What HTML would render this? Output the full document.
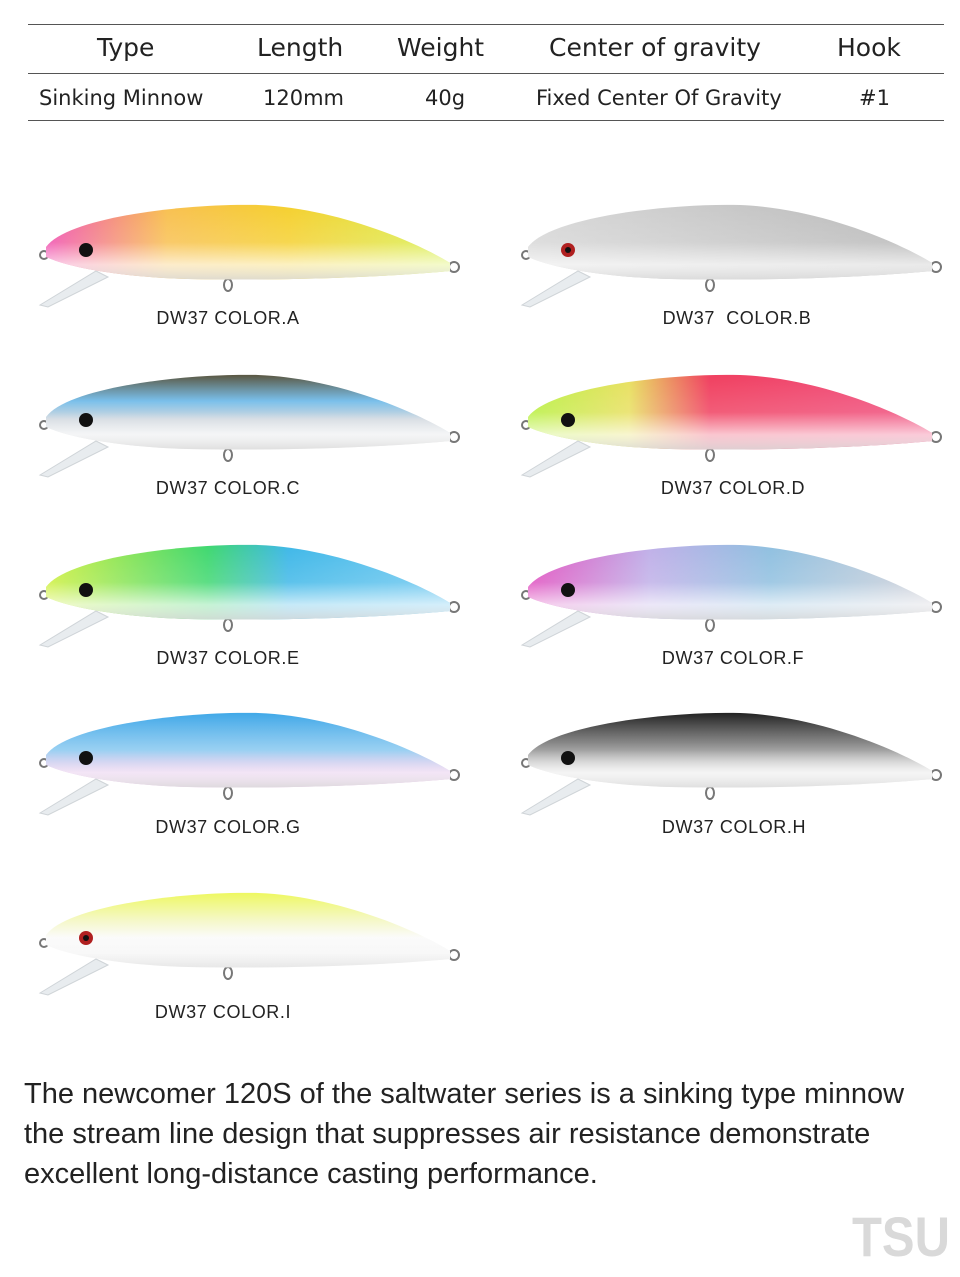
<!DOCTYPE html>
<html><head><meta charset="utf-8"><style>
body{margin:0;background:#fff;}
#p{position:relative;width:960px;height:1277px;overflow:hidden;font-family:"Liberation Sans",Arial,sans-serif;color:#222;}
.t{position:absolute;white-space:nowrap;font-family:"DejaVu Sans","Liberation Sans",sans-serif;color:#222;}
.h{font-size:25px;top:33px;font-weight:normal;}
.r{font-size:21px;top:86px;}
.lbl{position:absolute;font-size:18px;letter-spacing:0.6px;color:#222;white-space:nowrap;transform:translateX(-50%);}
.ln{position:absolute;left:28px;width:916px;height:1px;background:#555;}
.para{position:absolute;left:24px;top:1074px;font-size:29px;line-height:40px;color:#222;}
</style></head><body><div id="p">
<div class="ln" style="top:24px"></div>
<div class="ln" style="top:73px"></div>
<div class="ln" style="top:120px"></div>
<div class="t h" style="left:97px">Type</div>
<div class="t h" style="left:257px">Length</div>
<div class="t h" style="left:397px">Weight</div>
<div class="t h" style="left:549px">Center of gravity</div>
<div class="t h" style="left:837px">Hook</div>
<div class="t r" style="left:39px">Sinking Minnow</div>
<div class="t r" style="left:263px">120mm</div>
<div class="t r" style="left:425px">40g</div>
<div class="t r" style="left:536px">Fixed Center Of Gravity</div>
<div class="t r" style="left:859px">#1</div>

<svg width="960" height="1277" style="position:absolute;left:0;top:0">
<defs>
<path id="body" d="M8,52 C30,22 150,8 220,10 C300,13 380,48 412,68 L412,76 C350,82 250,86 150,84 C80,82 30,72 8,62 Z"/>
<linearGradient id="sh" x1="0" y1="0" x2="0" y2="1">
<stop offset="0" stop-color="#fff" stop-opacity="0"/><stop offset="0.5" stop-color="#fff" stop-opacity="0.15"/><stop offset="0.8" stop-color="#fff" stop-opacity="0.7"/><stop offset="1" stop-color="#ddd" stop-opacity="0.9"/></linearGradient>
<linearGradient id="gA" x1="0" x2="1"><stop offset="0" stop-color="#f04fb0"/><stop offset="0.3" stop-color="#f8c050"/><stop offset="0.6" stop-color="#f5d030"/><stop offset="1" stop-color="#d8f050"/></linearGradient>
<linearGradient id="gB" x1="0" x2="1"><stop offset="0" stop-color="#d8d8d8"/><stop offset="1" stop-color="#b8b8b8"/></linearGradient>
<linearGradient id="gC" x1="0" y1="0" x2="0" y2="1"><stop offset="0" stop-color="#5a5640"/><stop offset="0.35" stop-color="#6ab8e8"/><stop offset="0.6" stop-color="#c8d0d8"/><stop offset="1" stop-color="#eee"/></linearGradient>
<linearGradient id="gD" x1="0" x2="1"><stop offset="0" stop-color="#b8f040"/><stop offset="0.25" stop-color="#e8e060"/><stop offset="0.45" stop-color="#f04060"/><stop offset="1" stop-color="#f05080"/></linearGradient>
<linearGradient id="gE" x1="0" x2="1"><stop offset="0" stop-color="#d0f040"/><stop offset="0.4" stop-color="#40d870"/><stop offset="0.6" stop-color="#40b8e8"/><stop offset="1" stop-color="#70c8f0"/></linearGradient>
<linearGradient id="gF" x1="0" x2="1"><stop offset="0" stop-color="#e050c0"/><stop offset="0.3" stop-color="#c0b0e8"/><stop offset="0.6" stop-color="#90c0e0"/><stop offset="1" stop-color="#d0d0d8"/></linearGradient>
<linearGradient id="gG" x1="0" y1="0" x2="0" y2="1"><stop offset="0" stop-color="#40a8e8"/><stop offset="0.5" stop-color="#88c8f0"/><stop offset="0.8" stop-color="#d8a8e0"/><stop offset="1" stop-color="#e8b8e8"/></linearGradient>
<linearGradient id="gH" x1="0" y1="0" x2="0" y2="1"><stop offset="0" stop-color="#222"/><stop offset="0.4" stop-color="#777"/><stop offset="0.8" stop-color="#ddd"/><stop offset="1" stop-color="#eee"/></linearGradient>
<linearGradient id="gI" x1="0" y1="0" x2="0" y2="1"><stop offset="0" stop-color="#eef860"/><stop offset="0.35" stop-color="#f4f8c0"/><stop offset="0.6" stop-color="#fafafa"/><stop offset="1" stop-color="#f0f0f0"/></linearGradient>
<g id="parts">
<polygon points="2,110 58,76 70,82 10,112" fill="#e8ecef" stroke="#cfd4d8" stroke-width="1"/>
<circle cx="6" cy="60" r="4" fill="none" stroke="#777" stroke-width="2"/>
<circle cx="416" cy="72" r="5" fill="none" stroke="#777" stroke-width="2"/>
<ellipse cx="190" cy="90" rx="4" ry="6" fill="none" stroke="#777" stroke-width="2"/>
</g>
</defs>
<g transform="translate(38,195)"><use href="#parts"/><use href="#body" fill="url(#gA)"/><use href="#body" fill="url(#sh)"/><circle cx="48" cy="55" r="7" fill="#111"/></g>
<g transform="translate(520,195)"><use href="#parts"/><use href="#body" fill="url(#gB)"/><use href="#body" fill="url(#sh)"/><circle cx="48" cy="55" r="7" fill="#b02020"/><circle cx="48" cy="55" r="3" fill="#111"/></g>
<g transform="translate(38,365)"><use href="#parts"/><use href="#body" fill="url(#gC)"/><use href="#body" fill="url(#sh)"/><circle cx="48" cy="55" r="7" fill="#111"/></g>
<g transform="translate(520,365)"><use href="#parts"/><use href="#body" fill="url(#gD)"/><use href="#body" fill="url(#sh)"/><circle cx="48" cy="55" r="7" fill="#111"/></g>
<g transform="translate(38,535)"><use href="#parts"/><use href="#body" fill="url(#gE)"/><use href="#body" fill="url(#sh)"/><circle cx="48" cy="55" r="7" fill="#111"/></g>
<g transform="translate(520,535)"><use href="#parts"/><use href="#body" fill="url(#gF)"/><use href="#body" fill="url(#sh)"/><circle cx="48" cy="55" r="7" fill="#111"/></g>
<g transform="translate(38,703)"><use href="#parts"/><use href="#body" fill="url(#gG)"/><use href="#body" fill="url(#sh)"/><circle cx="48" cy="55" r="7" fill="#111"/></g>
<g transform="translate(520,703)"><use href="#parts"/><use href="#body" fill="url(#gH)"/><use href="#body" fill="url(#sh)"/><circle cx="48" cy="55" r="7" fill="#111"/></g>
<g transform="translate(38,883)"><use href="#parts"/><use href="#body" fill="url(#gI)"/><use href="#body" fill="url(#sh)" opacity="0.5"/><circle cx="48" cy="55" r="7" fill="#b02020"/><circle cx="48" cy="55" r="3" fill="#111"/></g>
<text x="852" y="1256" font-family="Liberation Sans,sans-serif" font-weight="bold" font-size="56" fill="#d9d9d9" textLength="98" lengthAdjust="spacingAndGlyphs">TSU</text>
</svg>

<div class="lbl" style="left:228px;top:308px">DW37 COLOR.A</div>
<div class="lbl" style="left:737px;top:308px">DW37&nbsp; COLOR.B</div>
<div class="lbl" style="left:228px;top:478px">DW37 COLOR.C</div>
<div class="lbl" style="left:733px;top:478px">DW37 COLOR.D</div>
<div class="lbl" style="left:228px;top:648px">DW37 COLOR.E</div>
<div class="lbl" style="left:733px;top:648px">DW37 COLOR.F</div>
<div class="lbl" style="left:228px;top:817px">DW37 COLOR.G</div>
<div class="lbl" style="left:734px;top:817px">DW37 COLOR.H</div>
<div class="lbl" style="left:223px;top:1002px">DW37 COLOR.I</div>

<div class="para">The newcomer 120S of the saltwater series is a sinking type minnow<br>the stream line design that suppresses air resistance demonstrate<br>excellent long-distance casting performance.</div>
</div></body></html>
